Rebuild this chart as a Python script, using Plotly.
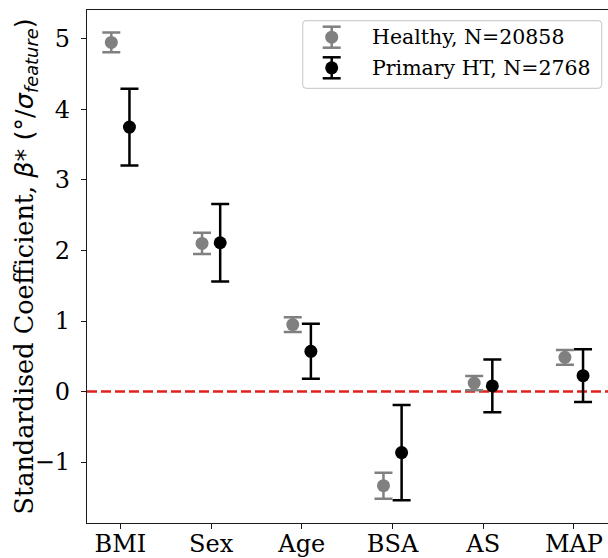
import plotly.graph_objects as go

# Standardised regression coefficients per feature, with 95% CI half-widths
features = ["BMI", "Sex", "Age", "BSA", "AS", "MAP"]
healthy_beta = [4.95, 2.10, 0.95, -1.335, 0.12, 0.485]
healthy_err = [0.14, 0.15, 0.105, 0.185, 0.10, 0.105]
ht_beta = [3.75, 2.11, 0.57, -0.865, 0.08, 0.225]
ht_err = [0.545, 0.55, 0.39, 0.675, 0.375, 0.375]
y_ticks = [-1, 0, 1, 2, 3, 4, 5]
y_ticktext = ["\u22121", "0", "1", "2", "3", "4", "5"]
legend_labels = ["Healthy, N=20858", "Primary HT, N=2768"]

GRAY = "#808080"
BLACK = "#000000"
FONT = "DejaVu Serif"

W, H = 608, 558
L, R, T, B = 87, 0, 10, 35
PW, PH = W - L - R, H - T - B

x_range = [-0.368, 5.375]
y_range = [-1.864, 5.41]

xs = list(range(len(features)))
offset = 0.1

fig = go.Figure()

fig.add_hline(y=0, line=dict(color="#e0201c", width=2.5, dash="10px,4px"), layer="below")

for beta, err, color, shift in [
    (healthy_beta, healthy_err, GRAY, -offset),
    (ht_beta, ht_err, BLACK, offset),
]:
    fig.add_trace(go.Scatter(
        x=[x + shift for x in xs], y=beta,
        mode="markers",
        marker=dict(color=color, size=13, line=dict(width=0)),
        error_y=dict(type="data", array=err, visible=True,
                     color=color, thickness=2.5, width=9),
        showlegend=False, hoverinfo="skip",
    ))


def px_x(px):
    return (px - L) / PW


def px_y(py):
    return (T + PH - py) / PH


# Legend box with rounded corners
bx0, bx1, by0, by1, rad = 302.7, 601.7, 20.7, 88.3, 4
path = (f"M {px_x(bx0 + rad)},{px_y(by0)} L {px_x(bx1 - rad)},{px_y(by0)} "
        f"Q {px_x(bx1)},{px_y(by0)} {px_x(bx1)},{px_y(by0 + rad)} "
        f"L {px_x(bx1)},{px_y(by1 - rad)} "
        f"Q {px_x(bx1)},{px_y(by1)} {px_x(bx1 - rad)},{px_y(by1)} "
        f"L {px_x(bx0 + rad)},{px_y(by1)} "
        f"Q {px_x(bx0)},{px_y(by1)} {px_x(bx0)},{px_y(by1 - rad)} "
        f"L {px_x(bx0)},{px_y(by0 + rad)} "
        f"Q {px_x(bx0)},{px_y(by0)} {px_x(bx0 + rad)},{px_y(by0)} Z")
fig.add_shape(type="path", path=path, xref="paper", yref="paper",
              fillcolor="rgba(255,255,255,0.8)", line=dict(color="#d0d0d0", width=1.2))

gx = 331.7
for label, color, cy in [(legend_labels[0], GRAY, 37.2), (legend_labels[1], BLACK, 67.8)]:
    half = 10.5
    fig.add_shape(type="line", xref="paper", yref="paper",
                  x0=px_x(gx), x1=px_x(gx), y0=px_y(cy - half), y1=px_y(cy + half),
                  line=dict(color=color, width=2.5))
    for cap in (cy - half, cy + half):
        fig.add_shape(type="line", xref="paper", yref="paper",
                      x0=px_x(gx - 9), x1=px_x(gx + 9), y0=px_y(cap), y1=px_y(cap),
                      line=dict(color=color, width=2.5))
    fig.add_shape(type="circle", xref="paper", yref="paper",
                  x0=px_x(gx - 6.5), x1=px_x(gx + 6.5), y0=px_y(cy - 6.5), y1=px_y(cy + 6.5),
                  fillcolor=color, line=dict(width=0))
    fig.add_annotation(text=label, xref="paper", yref="paper",
                       x=px_x(370), y=px_y(cy), xanchor="left", yanchor="middle",
                       showarrow=False, font=dict(family=FONT, size=20.5, color="black"))

# Y axis title
fig.add_annotation(
    text=("Standardised Coefficient, "
          "<span style='font-family:DejaVu Sans'><i>\u03b2</i>* (\u00b0/<i>\u03c3</i>"
          "<sub><i>feature</i></sub>)</span>"),
    xref="paper", yref="paper", x=px_x(25), y=0.5,
    xanchor="center", yanchor="middle", textangle=-90, showarrow=False,
    font=dict(family=FONT, size=25.5, color="black"),
)

axis_common = dict(
    showgrid=False, zeroline=False, showline=True, automargin=False,
    linecolor="#1a1a1a", linewidth=1.3, ticks="outside", ticklen=5,
    tickwidth=1.3, tickcolor="#1a1a1a",
    tickfont=dict(family=FONT, size=24, color="black"),
)

fig.update_layout(
    width=W, height=H,
    margin=dict(l=L, r=R, t=T, b=B, autoexpand=False),
    paper_bgcolor="white", plot_bgcolor="white",
    font=dict(family=FONT, size=24, color="black"),
    xaxis=dict(range=x_range, tickvals=xs, ticktext=features, mirror=True,
               ticklabelstandoff=-6, **axis_common),
    yaxis=dict(range=y_range, tickvals=y_ticks, ticktext=y_ticktext, mirror=False,
               ticklabelstandoff=6, **axis_common),
)

fig.write_html("out.html")
